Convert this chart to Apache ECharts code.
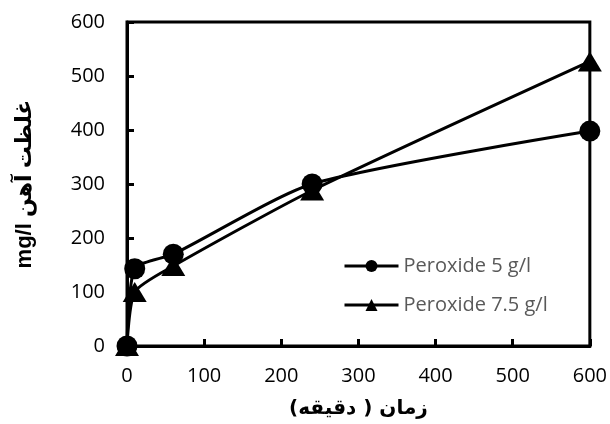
<!DOCTYPE html>
<html>
<head>
<meta charset="utf-8">
<script src="https://cdn.jsdelivr.net/npm/echarts@6/dist/echarts.min.js"></script>
<style>html,body{margin:0;padding:0;background:#fff}#c{width:610px;height:424px}</style>
</head>
<body>
<div id="c"></div>
<script>
var times = [0, 10, 60, 240, 600];
var peroxide5 = [0, 143, 170, 300, 398];
var peroxide75 = [0, 100, 148, 288, 527];
var seriesNames = ['Peroxide 5 g/l', 'Peroxide 7.5 g/l'];
// right-to-left marks keep the whole Persian title in natural RTL order
var xTitle = '\u200Fزمان ( دقیقه)\u200F';
var yTitle = 'mg/l غلظت آهن';

var chart = echarts.init(document.getElementById('c'), null, {renderer: 'canvas'});
function pairs(xs, ys) { return xs.map(function (x, i) { return [x, ys[i]]; }); }
var tickFont = '"Open Sans", Lato, sans-serif';
chart.setOption({
  animation: false,
  backgroundColor: '#fff',
  grid: {left: 127, right: 20, top: 22, bottom: 78, show: true, borderColor: '#000', borderWidth: 3},
  legend: {
    orient: 'vertical', left: 343, top: 256, padding: 0,
    itemWidth: 54, itemHeight: 15, itemGap: 19,
    lineStyle: {width: 3, color: '#000'},
    textStyle: {color: '#595959', fontSize: 20, fontFamily: tickFont},
    data: seriesNames
  },
  xAxis: {
    type: 'value', min: 0, max: 600, interval: 100,
    splitLine: {show: false},
    axisLine: {onZero: false, lineStyle: {color: '#000', width: 3}},
    axisTick: {inside: true, length: 7, lineStyle: {color: '#000', width: 3}},
    axisLabel: {color: '#000', fontSize: 20, fontFamily: tickFont, margin: 20},
    name: xTitle, nameLocation: 'middle', nameGap: 53,
    nameTextStyle: {color: '#000', fontSize: 20, fontWeight: 'bold', fontFamily: '"DejaVu Sans", sans-serif'}
  },
  yAxis: {
    type: 'value', min: 0, max: 600, interval: 100,
    splitLine: {show: false},
    axisLine: {lineStyle: {color: '#000', width: 3}},
    axisTick: {inside: true, length: 7, lineStyle: {color: '#000', width: 3}},
    axisLabel: {color: '#000', fontSize: 20, fontFamily: tickFont, margin: 22},
    name: yTitle, nameLocation: 'middle', nameGap: 91,
    nameTextStyle: {color: '#000', fontSize: 22, fontWeight: 'bold', fontFamily: '"Liberation Sans", "DejaVu Sans", sans-serif'}
  },
  series: [
    {
      name: seriesNames[0], type: 'line', data: pairs(times, peroxide5),
      symbol: 'circle', symbolSize: 21, smooth: 0.22, clip: false,
      lineStyle: {color: '#000', width: 3}, itemStyle: {color: '#000'}
    },
    {
      name: seriesNames[1], type: 'line', data: pairs(times, peroxide75),
      symbol: 'triangle', symbolSize: [24, 20], smooth: 0.22, clip: false,
      lineStyle: {color: '#000', width: 3}, itemStyle: {color: '#000'}
    }
  ]
});
</script>
</body>
</html>
